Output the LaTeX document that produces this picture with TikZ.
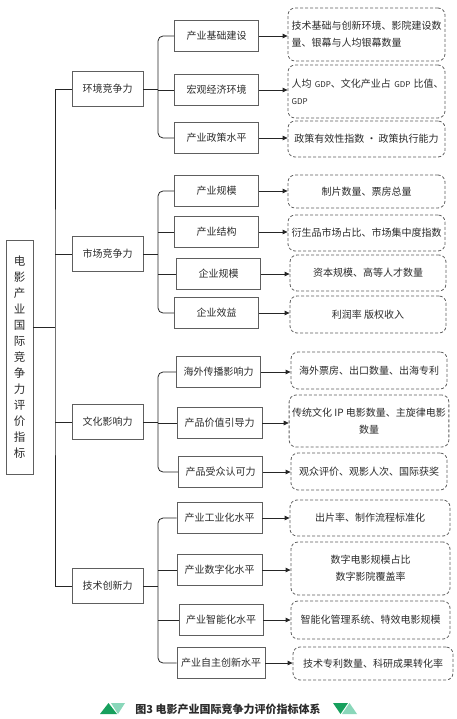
\documentclass[tikz,border=0pt]{standalone}
\usepackage{fontspec}
\setmainfont{Noto Sans CJK SC}
\usetikzlibrary{arrows.meta}
\definecolor{boxgray}{HTML}{5E5E5E}
\definecolor{txtgray}{HTML}{2B2B2B}
\definecolor{darkgreen}{HTML}{17A05D}
\definecolor{lightgreen}{HTML}{7DD3B2}
\newcommand{\gdpword}{{\fontsize{8}{17}\selectfont GDP}}

\begin{document}
\begin{tikzpicture}[x=1pt, y=-1pt, line width=0.8pt, font=\fontsize{10}{17}\selectfont,
  main box/.style={rectangle, draw=boxgray, inner sep=2pt, text=txtgray},
  root node/.style={main box, minimum width=27pt, minimum height=234pt, align=center, font=\fontsize{11.5}{16}\selectfont},
  top node/.style={main box, minimum width=71pt, minimum height=35pt},
  sub node/.style={main box, minimum width=84pt, minimum height=31pt},
  item node/.style={rectangle, draw=boxgray, dash pattern=on 3pt off 2pt, rounded corners=7pt, minimum width=157pt, inner sep=3pt, align=center, text=txtgray},
  link/.style={draw=black!85},
  arrow/.style={link, -{Triangle[length=5pt, width=4.5pt]}}]
\useasboundingbox (0,0) rectangle (457,719);

% root and first level
\node [root node] (root) at (19.5,357) {电\\影\\产\\业\\国\\际\\竞\\争\\力\\评\\价\\指\\标};
\node [top node] (env) at (107.5,89) {环境竞争力};
\node [top node] (mkt) at (107.5,254) {市场竞争力};
\node [top node] (cul) at (107.5,422) {文化影响力};
\node [top node] (tec) at (107.5,586) {技术创新力};

% second level
\node [sub node] (env1) at (216.5,36) {产业基础建设};
\node [sub node] (env2) at (216.5,90) {宏观经济环境};
\node [sub node] (env3) at (216.5,138) {产业政策水平};
\node [sub node] (mkt1) at (216.5,191) {产业规模};
\node [sub node] (mkt2) at (216.5,232) {产业结构};
\node [sub node] (mkt3) at (218.5,274) {企业规模};
\node [sub node] (mkt4) at (216.5,313) {企业效益};
\node [sub node] (cul1) at (218.5,372) {海外传播影响力};
\node [sub node, minimum width=85pt] (cul2) at (219.5,423) {产品价值引导力};
\node [sub node] (cul3) at (220.5,472) {产品受众认可力};
\node [sub node, minimum width=85pt] (tec1) at (219.5,518) {产业工业化水平};
\node [sub node, minimum width=85pt] (tec2) at (219.5,570) {产业数字化水平};
\node [sub node] (tec3) at (221,620) {产业智能化水平};
\node [sub node, minimum width=88pt] (tec4) at (221,663) {产业自主创新水平};

% third level
\node [item node, minimum height=53pt, text width=150pt, align=left] (env1i) at (366.5,34.5) {技术基础与创新环境、影院建设数\\量、银幕与人均银幕数量};
\node [item node, minimum height=53pt, text width=150pt, align=left] (env2i) at (366.5,91.5) {\mbox{人均 \gdpword、文化产业占 \gdpword\ 比值、}\\\gdpword};
\node [item node, minimum height=36pt] (env3i) at (366.5,139) {政策有效性指数 · 政策执行能力};
\node [item node, minimum height=33pt] (mkt1i) at (366.5,191.5) {制片数量、票房总量};
\node [item node, minimum height=36pt] (mkt2i) at (366.5,233) {衍生品市场占比、市场集中度指数};
\node [item node, minimum height=36pt, minimum width=156pt] (mkt3i) at (368,273) {资本规模、高等人才数量};
\node [item node, minimum height=37pt, minimum width=156pt] (mkt4i) at (368,314.5) {利润率 版权收入};
\node [item node, minimum height=37pt, minimum width=156pt] (cul1i) at (369,370.5) {海外票房、出口数量、出海专利};
\node [item node, minimum height=52pt, minimum width=156pt] (cul2i) at (369,421) {传统文化 IP 电影数量、主旋律电影\\数量};
\node [item node, minimum height=37pt, minimum width=156pt] (cul3i) at (369,471.5) {观众评价、观影人次、国际获奖};
\node [item node, minimum height=36pt, minimum width=160pt] (tec1i) at (370,518) {出片率、制作流程标准化};
\node [item node, minimum height=53pt, minimum width=159pt] (tec2i) at (370.5,568.5) {数字电影规模占比\\数字影院覆盖率};
\node [item node, minimum height=38pt, minimum width=159pt] (tec3i) at (370.5,620) {智能化管理系统、特效电影规模};
\node [item node, minimum height=33pt, minimum width=160pt] (tec4i) at (373,663.5) {技术专利数量、科研成果转化率};

% trunk
\coordinate (trunk) at (55,327);
\draw [link] (env.west) -| (trunk) |- (tec.west);
\draw [link] (root.east |- trunk) -- (trunk);
\draw [link] (mkt.west) -- (mkt.west -| trunk);
\draw [link] (cul.west) -- (cul.west -| trunk);

% brackets
\coordinate (br1) at (158,89);
\coordinate (br2) at (158,254);
\coordinate (br3) at (158,422);
\coordinate (br4) at (158,586);
\draw [link, rounded corners=5pt] (env1.west) -| (br1) |- (env3.west);
\draw [link] (env.east) -- (br1) (env2.west) -- (env2.west -| br1);
\draw [link, rounded corners=5pt] (mkt1.west) -| (br2) |- (mkt4.west);
\draw [link] (mkt.east) -- (br2) (mkt2.west) -- (mkt2.west -| br2) (mkt3.west) -- (mkt3.west -| br2);
\draw [link, rounded corners=5pt] (cul1.west) -| (br3) |- (cul3.west);
\draw [link] (cul.east) -- (br3) (cul2.west) -- (cul2.west -| br3);
\draw [link, rounded corners=5pt] (tec1.west) -| (br4) |- (tec4.west);
\draw [link] (tec.east) -- (br4) (tec2.west) -- (tec2.west -| br4) (tec3.west) -- (tec3.west -| br4);

% arrows
\foreach \s in {env1,env2,env3,mkt1,mkt2,mkt3,mkt4,cul1,cul2,cul3,tec1,tec2,tec3,tec4}
  \draw [arrow] (\s.east) -- (\s.east -| \s i.west);

% caption
\node [font=\fontsize{11}{13}\selectfont\bfseries, text=txtgray] (cap) at (228,709) {图3 电影产业国际竞争力评价指标体系};
\fill [darkgreen] (100,714) -- (117,714) -- (108.5,703) -- cycle;
\fill [lightgreen, opacity=0.9] (111,703) -- (125,703) -- (118,714) -- cycle;
\fill [darkgreen] (333,703) -- (348,703) -- (340.5,714) -- cycle;
\fill [lightgreen, opacity=0.9] (342,714) -- (357,714) -- (349.5,703) -- cycle;
\end{tikzpicture}
\end{document}
